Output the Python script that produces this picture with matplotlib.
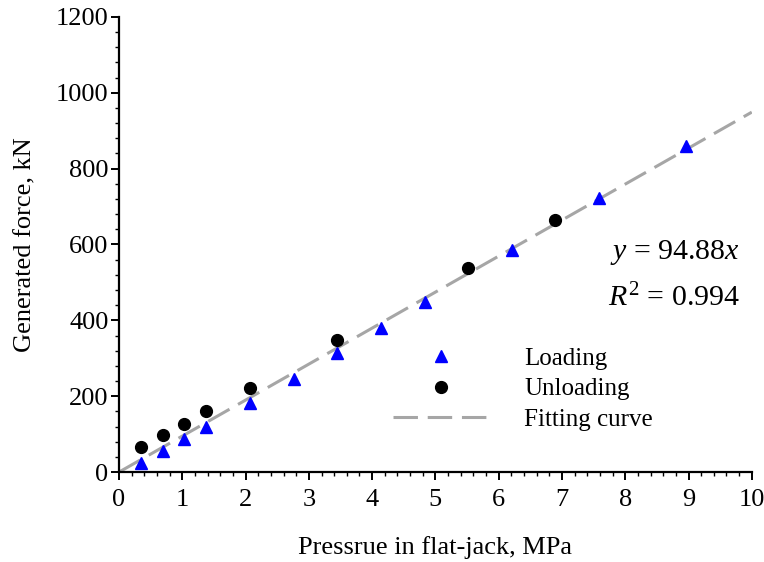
import matplotlib.pyplot as plt
import numpy as np
from matplotlib.ticker import MultipleLocator

plt.rcParams["font.family"] = ["Liberation Serif", "DejaVu Serif"]
plt.rcParams["mathtext.fontset"] = "custom"
plt.rcParams["mathtext.rm"] = "Liberation Serif"
plt.rcParams["mathtext.it"] = "Liberation Serif:italic"

# flat-jack calibration readings
loading_p = [0.345, 0.69, 1.03, 1.38, 2.07, 2.76, 3.45, 4.14, 4.83, 6.21, 7.58, 8.96]
loading_f = [25, 55, 87, 118, 181, 246, 313, 379, 448, 585, 722, 860]
unloading_p = [0.345, 0.69, 1.03, 1.38, 2.07, 3.45, 5.52, 6.89]
unloading_f = [66, 97, 128, 160, 222, 348, 538, 664]
slope = 94.88
r_squared = 0.994

fig = plt.figure(figsize=(7.64, 5.62), dpi=100)
ax = fig.add_axes([0.1558, 0.160, 0.8282, 0.810])

fit_x = np.array([0, 10])
ax.plot(fit_x, slope * fit_x, color="#a6a6a6", lw=2.2, dashes=(8, 3.2),
        label="Fitting curve", zorder=2)
ax.plot(loading_p, loading_f, ls="none", marker="^", ms=9, color="#0000ff",
        label="Loading", zorder=3)
ax.plot(unloading_p, unloading_f, ls="none", marker="o", ms=8.5, color="black",
        label="Unloading", zorder=4)

ax.set_xlim(0, 10)
ax.set_ylim(0, 1200)
ax.xaxis.set_major_locator(MultipleLocator(1))
ax.xaxis.set_minor_locator(MultipleLocator(0.2))
ax.yaxis.set_major_locator(MultipleLocator(200))
ax.yaxis.set_minor_locator(MultipleLocator(40))
ax.tick_params(which="major", direction="out", length=5.5, width=1.4, labelsize=19)
ax.tick_params(axis="x", which="major", pad=7)
ax.tick_params(axis="y", which="major", pad=2)
ax.tick_params(which="minor", direction="out", length=3, width=1.0)
for side in ("top", "right"):
    ax.spines[side].set_visible(False)
for side in ("left", "bottom"):
    ax.spines[side].set_linewidth(1.6)

ax.set_xlabel("Pressrue in flat-jack, MPa", fontsize=19, labelpad=18)
ax.set_ylabel("Generated force, kN", fontsize=19, labelpad=14)

ax.text(0.981, 0.482, r"$y$ = 94.88$x$", transform=ax.transAxes,
        fontsize=21.5, ha="right", va="center")
ax.text(0.981, 0.382, r"$R^2$ = %.3f" % r_squared, transform=ax.transAxes,
        fontsize=21.5, ha="right", va="center")

handles, labels = ax.get_legend_handles_labels()
order = [1, 2, 0]
ax.legend([handles[i] for i in order], [labels[i] for i in order],
          loc="upper left", bbox_to_anchor=(0.433, 0.274), frameon=False,
          fontsize=18, handlelength=3.8, handletextpad=1.44, labelspacing=0.32,
          borderaxespad=0, borderpad=0)

fig.savefig("out.png", dpi=100)
